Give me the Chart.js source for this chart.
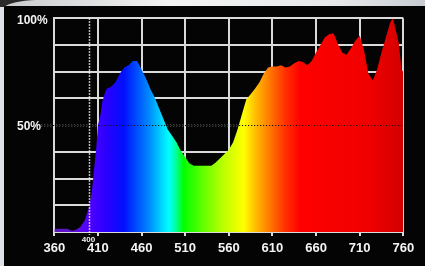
<!DOCTYPE html>
<html>
<head>
<meta charset="utf-8">
<script src="https://cdn.jsdelivr.net/npm/chart.js@4.4.1/dist/chart.umd.min.js"></script>
<style>
  html, body { margin: 0; padding: 0; background: #000; }
  #wrap { width: 425px; height: 266px; position: relative; }
</style>
</head>
<body>
<div id="wrap"><canvas id="c" width="425" height="266"></canvas></div>
<script>
// Wavelength (nm) and relative intensity (%)
const wavelengths = [360,365,370,375,380,385,390,395,400,403,405,408,410,413,415,418,420,425,430,435,440,445,450,455,460,465,470,475,480,485,490,495,500,505,510,515,520,525,530,535,540,545,550,555,560,565,570,575,580,585,590,595,600,605,610,615,620,625,630,635,640,645,650,655,660,665,670,675,680,685,690,695,700,705,710,715,720,725,730,735,740,745,748,750,755,758,760];
const intensity   = [1.5,1.5,1.5,1.5,0.6,1,2.5,5.5,12,19,27,39,50,55,61,65,67,68,70,74,77,78,80,80,76,72,67,63,58,53,48,45,42,38,35,32,31,31,31,31,31,32.5,34.5,36.5,38.5,42,48,55,62,64.5,67,70,74,77,77.5,77.5,78,77,77.5,79,80,79.5,78,80,84,87.5,91,92.5,93,88,84,83,86,89.5,92,85,74,71,76,84,91,98,100,97,88,76,75];
const xTicks = [360,410,460,510,560,610,660,710,760];
const yLabels = {100: '100%', 50: '50%'};
const markerWavelength = 400;
const markerLabel = '400';
const halfLevel = 50;

const points = wavelengths.map((w, i) => ({x: w, y: intensity[i]}));

const spectrumStops = [
  [360, '#5a1ab8'], [380, '#6010d0'], [400, '#5000ff'], [420, '#2a00ff'],
  [440, '#0010ff'], [455, '#0050ff'], [470, '#0090ff'], [485, '#00e0ff'],
  [492, '#00ffff'], [500, '#00ff90'], [508, '#00ff00'], [530, '#60ff00'],
  [555, '#c0ff00'], [577, '#ffff00'], [590, '#ffc000'], [605, '#ff8000'],
  [625, '#ff3000'], [642, '#ff0000'], [720, '#f00000'], [760, '#d40000']
];

const bgPlugin = {
  id: 'bg',
  beforeDraw(chart) {
    const c = chart.ctx;
    c.save();
    c.fillStyle = '#dfe2e6';
    c.fillRect(0, 0, 425, 266);
    const tg = c.createLinearGradient(0, 0, 425, 0);
    tg.addColorStop(0, '#c8cacc'); tg.addColorStop(0.4, '#f4f4f4');
    tg.addColorStop(0.8, '#e6e8ea'); tg.addColorStop(1, '#c8ccd2');
    c.fillStyle = tg;
    c.fillRect(0, 0, 425, 7);
    c.fillStyle = '#040404';
    c.fillRect(4, 6, 421, 260);
    c.fillStyle = '#2a2a2a';
    c.beginPath();
    c.moveTo(0, 0); c.lineTo(36, 0);
    c.quadraticCurveTo(12, 1, 4, 7); c.lineTo(0, 7); c.closePath();
    c.fill();
    c.restore();
  },
  beforeDatasetsDraw(chart) {
    const c = chart.ctx, x = chart.scales.x, y = chart.scales.y;
    const yp = Math.round(y.getPixelForValue(halfLevel)) + 0.5;
    c.save();
    c.strokeStyle = '#e6e6e6'; c.lineWidth = 1.3; c.setLineDash([1.2, 1.8]);
    c.beginPath(); c.moveTo(41, yp); c.lineTo(x.right, yp); c.stroke();
    c.restore();
  },
  afterDatasetsDraw(chart) {
    const c = chart.ctx, x = chart.scales.x, y = chart.scales.y;
    const yp = Math.round(y.getPixelForValue(halfLevel)) + 0.5;
    c.save();
    c.strokeStyle = '#111'; c.lineWidth = 1.2; c.setLineDash([1.2, 1.8]);
    c.beginPath(); c.moveTo(41, yp); c.lineTo(x.right, yp); c.stroke();
    const xp = Math.round(x.getPixelForValue(markerWavelength)) + 0.5;
    c.strokeStyle = '#f4f4f4'; c.lineWidth = 1.5; c.setLineDash([1.5, 1.5]);
    c.beginPath(); c.moveTo(xp, y.top); c.lineTo(xp, y.bottom + 3); c.stroke();
    c.setLineDash([]);
    c.fillStyle = '#f0f0f0';
    c.font = 'bold 8px "Liberation Sans", Arial, sans-serif';
    c.textAlign = 'center'; c.textBaseline = 'middle';
    c.fillText(markerLabel, xp - 1, y.bottom + 8);
    c.restore();
  }
};

new Chart(document.getElementById('c'), {
  type: 'line',
  data: {
    datasets: [{
      data: points,
      borderWidth: 0,
      borderColor: 'rgba(0,0,0,0)',
      pointRadius: 0,
      tension: 0,
      fill: 'origin',
      backgroundColor(ctx) {
        const chart = ctx.chart;
        if (!chart.chartArea) return '#00f';
        const sx = chart.scales.x;
        const x0 = sx.getPixelForValue(360), x1 = sx.getPixelForValue(760);
        const g = chart.ctx.createLinearGradient(x0, 0, x1, 0);
        spectrumStops.forEach(([w, col]) => g.addColorStop((w - 360) / 400, col));
        return g;
      }
    }]
  },
  options: {
    responsive: false,
    animation: false,
    devicePixelRatio: 1,
    layout: { padding: { left: 17, right: 21.7, top: 18.3, bottom: 0 } },
    plugins: { legend: { display: false }, tooltip: { enabled: false } },
    scales: {
      x: {
        type: 'linear', min: 360, max: 760,
        afterBuildTicks(scale) { scale.ticks = xTicks.map(v => ({value: v})); },
        afterFit(scale) { scale.height = 34; },
        grid: { color: '#dadada', lineWidth: 2, tickLength: 4, tickColor: '#dadada', tickWidth: 2 },
        border: { color: '#dadada', width: 2 },
        ticks: {
          color: '#f4f4f4', padding: 5, maxRotation: 0, autoSkip: false,
          font: { family: '"Liberation Sans", Arial, sans-serif', size: 13, weight: 'bold' }
        }
      },
      y: {
        min: 0, max: 100,
        afterBuildTicks(scale) {
          const t = [];
          for (let v = 0; v <= 100; v += 12.5) t.push({value: v});
          scale.ticks = t;
        },
        afterFit(scale) { scale.width = 37.3; },
        grid: {
          drawTicks: false, lineWidth: 2,
          color(ctx) { return ctx.tick && ctx.tick.value === halfLevel ? 'rgba(0,0,0,0)' : '#dadada'; }
        },
        border: { color: '#dadada', width: 2 },
        ticks: {
          autoSkip: false, crossAlign: 'far', padding: 0, labelOffset: 2,
          color: '#f4f4f4',
          font: { family: '"Liberation Sans", Arial, sans-serif', size: 12, weight: 'bold' },
          callback(v) { return yLabels[v] || ''; }
        }
      }
    }
  },
  plugins: [bgPlugin]
});
</script>
</body>
</html>
